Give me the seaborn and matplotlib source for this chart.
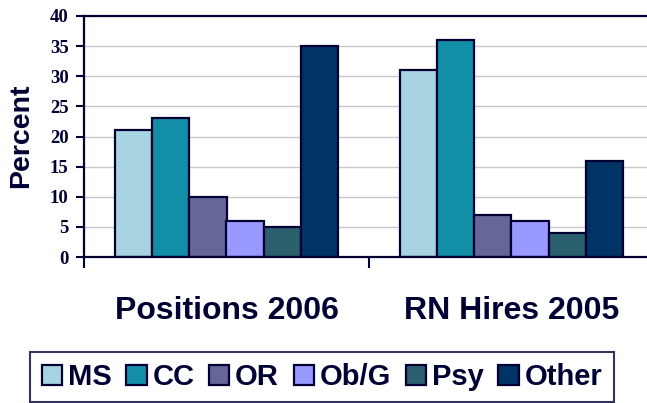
import pandas as pd
import numpy as np
import matplotlib
matplotlib.use("Agg")
import matplotlib.pyplot as plt
import seaborn as sns

# data
groups = ['Positions 2006', 'RN Hires 2005']
units = ['MS', 'CC', 'OR', 'Ob/G', 'Psy', 'Other']
positions_2006 = [21, 23, 10, 6, 5, 35]
rn_hires_2005 = [31, 36, 7, 6, 4, 16]

colors = ['#A8D3E0', '#128FA6', '#666699', '#9999FF', '#2A5F6E', '#003366']
navy = '#000033'

df = pd.DataFrame({
    'group': [groups[0]] * len(units) + [groups[1]] * len(units),
    'unit': units * 2,
    'percent': positions_2006 + rn_hires_2005,
})

sns.set_style('white')

fig = plt.figure(figsize=(6.47, 4.03), dpi=100)
ax = fig.add_axes([84 / 647, 146 / 403, 570 / 647, 241 / 403])

sns.barplot(data=df, x='group', y='percent', hue='unit', order=groups, hue_order=units,
            palette=colors, width=0.78, edgecolor=navy, linewidth=1.6, saturation=1,
            ax=ax, legend=True)

ax.set_xlim(-0.5, 1.5)
ax.set_ylim(0, 40)
ax.set_yticks(range(0, 41, 5))
ax.yaxis.grid(True, color='#C8C8C8', linewidth=1)
ax.set_axisbelow(True)

for side in ['left', 'bottom', 'top']:
    ax.spines[side].set_color(navy)
    ax.spines[side].set_linewidth(1.6)
ax.spines['right'].set_visible(False)

# y ticks: bold serif numbers
ax.tick_params(axis='y', left=True, direction='out', length=6, width=1.5, color=navy, pad=5)
for lab in ax.get_yticklabels():
    lab.set_fontfamily('Liberation Serif')
    lab.set_fontweight('bold')
    lab.set_fontsize(13.5)
    lab.set_color(navy)

# x: labels at centres, small ticks at group boundaries
ax.set_xticks([0, 1])
ax.set_xticklabels(groups, fontsize=23, fontweight='bold', color=navy,
                   fontfamily='Liberation Sans')
ax.tick_params(axis='x', which='major', bottom=False, length=0, pad=28)
ax.set_xticks([-0.5, 0.5, 1.5], minor=True)
ax.tick_params(axis='x', which='minor', bottom=True, direction='out', length=8,
               width=1.5, color=navy)

ax.set_xlabel('')
ax.set_ylabel('Percent', fontsize=20.5, fontweight='bold', color=navy,
              fontfamily='Liberation Sans')
ax.yaxis.set_label_coords(-50 / 570, 0.504)

handles, labels = ax.get_legend_handles_labels()
ax.legend_.remove()
leg = fig.legend(handles, labels, loc='center', bbox_to_anchor=(322 / 647, 1 - 377 / 403),
                 ncol=6, frameon=True, fancybox=False, edgecolor=navy,
                 prop={'family': 'Liberation Sans', 'weight': 'bold', 'size': 21},
                 handlelength=0.7, handleheight=0.7, handletextpad=0.2,
                 columnspacing=0.5, borderpad=0.38, borderaxespad=0)
leg.get_frame().set_linewidth(1.5)
for t in leg.get_texts():
    t.set_color(navy)

fig.savefig('out.png', dpi=100)
